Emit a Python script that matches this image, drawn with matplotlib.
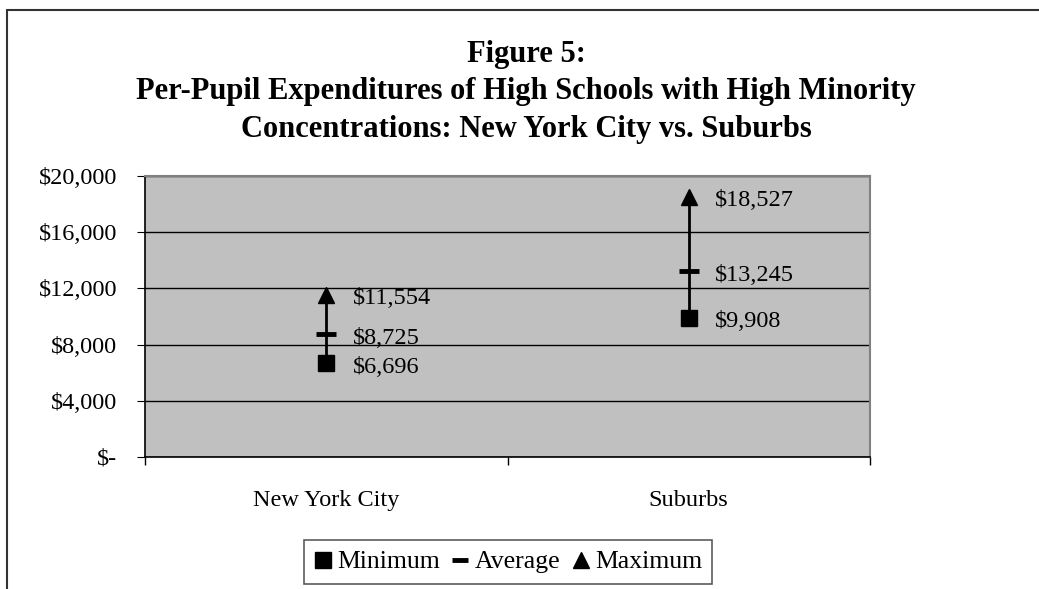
import matplotlib
matplotlib.use("Agg")
import matplotlib.pyplot as plt
import matplotlib.ticker as mtick
from matplotlib.patches import Rectangle
from matplotlib.lines import Line2D

# Data
categories = ["New York City", "Suburbs"]
minimum = [6696, 9908]
average = [8725, 13245]
maximum = [11554, 18527]
y_ticks = [0, 4000, 8000, 12000, 16000, 20000]

plt.rcParams["font.family"] = ["Liberation Serif", "DejaVu Serif"]

fig = plt.figure(figsize=(10.39, 5.89), dpi=100)
ax = fig.add_axes([145 / 1039, 1 - 457 / 589, 725 / 1039, 281 / 589])
ax.set_facecolor("#C0C0C0")

x = list(range(len(categories)))

# Grid lines
ax.set_ylim(0, 20000)
ax.set_yticks(y_ticks)
ax.yaxis.grid(True, color="black", linewidth=1)
ax.set_axisbelow(True)

# High-low lines and markers
ax.vlines(x, minimum, maximum, color="black", linewidth=2, zorder=3)
ax.plot(x, minimum, ls="none", marker="s", ms=11, color="black", zorder=4)
ax.plot(x, average, ls="none", marker="_", ms=14, mew=3.5, color="black", zorder=4)
ax.plot(x, maximum, ls="none", marker="^", ms=11, color="black", zorder=4)

# Data labels
for xi, lo, av, hi in zip(x, minimum, average, maximum):
    for v in (lo, av, hi):
        ax.annotate(f"${v:,}", (xi, v), xytext=(19, -3), textcoords="offset points",
                    ha="left", va="center", fontsize=17.5)

# Axes styling
ax.set_xlim(-0.5, 1.5)
ax.set_xticks([-0.5, 0.5, 1.5])
ax.set_xticklabels([])
ax.set_xticks(x, minor=True)
ax.set_xticklabels(categories, minor=True)
ax.tick_params(axis="x", which="minor", length=0, pad=24, labelsize=17.5)
ax.tick_params(axis="x", which="major", length=6, direction="out", width=1)
ax.tick_params(axis="y", length=6, direction="out", pad=14, labelsize=17.5)


def money(v, pos):
    return "$-" if v == 0 else f"${v:,.0f}"


ax.yaxis.set_major_formatter(mtick.FuncFormatter(money))

for side in ("top", "right"):
    ax.spines[side].set_color("#808080")
    ax.spines[side].set_linewidth(1.5)
for side in ("left", "bottom"):
    ax.spines[side].set_color("black")
    ax.spines[side].set_linewidth(1.2)

# Title
fig.text(526 / 1039, 1 - 92 / 589,
         "Figure 5:\nPer-Pupil Expenditures of High Schools with High Minority\n"
         "Concentrations: New York City vs. Suburbs",
         ha="center", va="center", fontsize=22, fontweight="bold", linespacing=1.38)

# Legend
handles = [
    Line2D([], [], ls="none", marker="s", ms=11, color="black"),
    Line2D([], [], ls="none", marker="_", ms=12, mew=3.5, color="black"),
    Line2D([], [], ls="none", marker="^", ms=11, color="black"),
]
leg = fig.legend(handles, ["Minimum", "Average", "Maximum"], loc="center",
                 bbox_to_anchor=(508 / 1039, 1 - 562 / 589), ncol=3, fontsize=18.5,
                 frameon=True, fancybox=False, handlelength=0.7, handletextpad=0.2,
                 columnspacing=0.45, borderpad=0.4, borderaxespad=0)
leg.get_frame().set_edgecolor("#333333")
leg.get_frame().set_linewidth(1.2)

# Outer chart border (extends beyond the canvas on right and bottom)
fig.patches.append(Rectangle((7 / 1039, -0.05), 1.1, 1 - 10 / 589 + 0.05,
                             transform=fig.transFigure, fill=False,
                             edgecolor="#333333", linewidth=1.5))

fig.savefig("out.png", dpi=100)
